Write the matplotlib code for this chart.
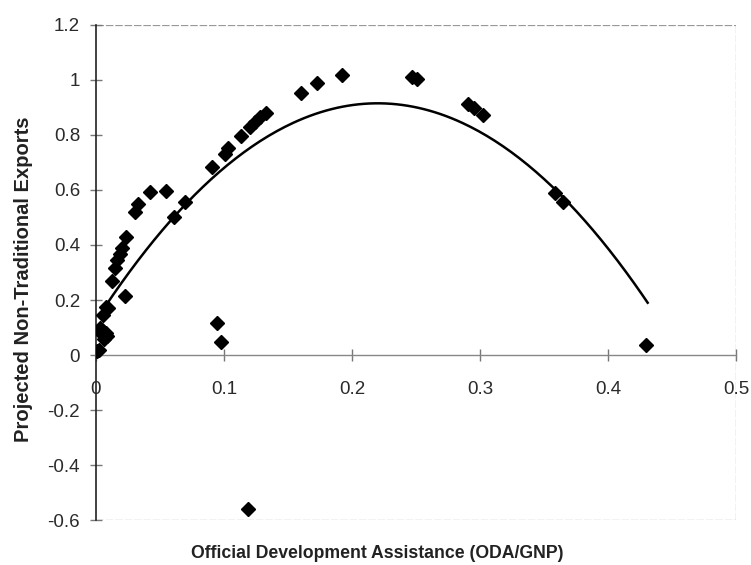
import matplotlib
matplotlib.use("Agg")
import matplotlib.pyplot as plt
import numpy as np

plt.rcParams["font.family"] = ["Liberation Sans", "DejaVu Sans"]

# scatter values (ODA/GNP vs projected non-traditional exports)
oda = [0.0005, 0.002, 0.003, 0.004, 0.005, 0.006, 0.007, 0.008, 0.009, 0.0057,
       0.0076, 0.0095, 0.0128, 0.0148, 0.0167, 0.0188, 0.020, 0.0232, 0.0227,
       0.0305, 0.033, 0.042, 0.0545, 0.061, 0.0695, 0.0904, 0.1008, 0.1034,
       0.113, 0.120, 0.124, 0.128, 0.133, 0.160, 0.173, 0.192, 0.2466, 0.2505,
       0.291, 0.295, 0.3026, 0.3586, 0.3646, 0.430, 0.0948, 0.0974, 0.119]
exports = [0.016, 0.02, 0.10, 0.08, 0.09, 0.06, 0.07, 0.08, 0.07, 0.145,
           0.176, 0.17, 0.27, 0.315, 0.345, 0.367, 0.388, 0.43, 0.215,
           0.521, 0.549, 0.592, 0.597, 0.50, 0.557, 0.685, 0.731, 0.751,
           0.796, 0.83, 0.848, 0.864, 0.881, 0.954, 0.99, 1.018, 1.01, 1.003,
           0.912, 0.897, 0.873, 0.59, 0.557, 0.036, 0.115, 0.048, -0.561]

# quadratic trend line coefficients (a + b*x + c*x^2)
trend_coef = [0.1256, 7.175, -16.30]
trend_range = [0.007, 0.431]

x_ticks = [0, 0.1, 0.2, 0.3, 0.4, 0.5]
x_labels = ["0", "0.1", "0.2", "0.3", "0.4", "0.5"]
y_ticks = [-0.6, -0.4, -0.2, 0, 0.2, 0.4, 0.6, 0.8, 1, 1.2]
y_labels = ["-0.6", "-0.4", "-0.2", "0", "0.2", "0.4", "0.6", "0.8", "1", "1.2"]

fig = plt.figure(figsize=(7.51, 5.65), dpi=100, facecolor="white")
ax = fig.add_axes([0.1278, 0.0796, 0.8522, 0.8762])

ax.set_xlim(0, 0.5)
ax.set_ylim(-0.6, 1.2)

# frame: solid left axis, light dotted box elsewhere
for side in ["top", "right"]:
    ax.spines[side].set_visible(False)
ax.spines["left"].set_color("#222222")
ax.spines["left"].set_linewidth(1.2)
ax.spines["bottom"].set_position(("data", 0))
ax.spines["bottom"].set_color("#888888")
ax.spines["bottom"].set_linewidth(1.0)
box_kw = dict(color="#999999", linewidth=0.9, linestyle=(0, (6, 1.5)), zorder=1)
ax.axhline(1.2, **box_kw)
ax.axhline(-0.6, **box_kw)
ax.axvline(0.5, **box_kw)

ax.set_xticks(x_ticks)
ax.set_xticklabels(x_labels)
ax.set_yticks(y_ticks)
ax.set_yticklabels(y_labels)
ax.tick_params(axis="x", direction="inout", length=9, width=1, color="#777777",
               pad=14, labelsize=13.5, labelcolor="#2a2a2a")
ax.tick_params(axis="y", direction="inout", length=9, width=1, color="#777777",
               pad=7, labelsize=13.5, labelcolor="#2a2a2a")

ax.plot(oda, exports, linestyle="none", marker="D", markersize=7.5,
        color="black", zorder=3)

xs = np.linspace(trend_range[0], trend_range[1], 200)
ys = trend_coef[0] + trend_coef[1] * xs + trend_coef[2] * xs ** 2
ax.plot(xs, ys, color="black", linewidth=1.8, zorder=2)

fig.text(0.502, 0.02, "Official Development Assistance (ODA/GNP)", ha="center",
         va="center", fontsize=12.7, fontweight="bold", color="#222222")
fig.text(0.031, 0.506, "Projected Non-Traditional Exports", ha="center",
         va="center", rotation=90, fontsize=14.5, fontweight="bold", color="#222222")

fig.savefig("out.png", dpi=100, facecolor="white")
